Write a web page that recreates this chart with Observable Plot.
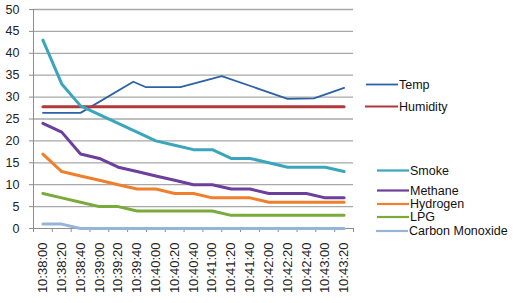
<!DOCTYPE html>
<html><head><meta charset="utf-8">
<script src="https://cdn.jsdelivr.net/npm/d3@7"></script>
<script src="https://cdn.jsdelivr.net/npm/@observablehq/plot@0.6"></script>
<style>
body{margin:0;background:#fff;}
#chart{position:relative;width:522px;height:303px;overflow:hidden;}
svg{font-family:"Liberation Sans",Arial,sans-serif;}
</style>
</head><body><div id="chart"></div>
<script>
const times = ["10:38:00","10:38:20","10:38:40","10:39:00","10:39:20","10:39:40","10:40:00","10:40:20","10:40:40","10:41:00","10:41:20","10:41:40","10:42:00","10:42:20","10:42:40","10:43:00","10:43:20"];
const yTicks = [0,5,10,15,20,25,30,35,40,45,50];
const tempX = [0, 2, 4.8, 5.45, 7.3, 9.5, 13, 14.4, 16];
const temp  = [26.4, 26.4, 33.5, 32.3, 32.3, 34.8, 29.6, 29.7, 32.1];
const humidity = [27.8,27.8,27.8,27.8,27.8,27.8,27.8,27.8,27.8,27.8,27.8,27.8,27.8,27.8,27.8,27.8,27.8];
const smoke    = [43,33,28,26,24,22,20,19,18,18,16,16,15,14,14,14,13];
const methane  = [24,22,17,16,14,13,12,11,10,10,9,9,8,8,8,7,7];
const hydrogen = [17,13,12,11,10,9,9,8,8,7,7,7,6,6,6,6,6];
const lpg      = [8,7,6,5,5,4,4,4,4,4,3,3,3,3,3,3,3];
const co       = [1,1,0,0,0,0,0,0,0,0,0,0,0,0,0,0,0];

const seriesNames  = ["Temp","Humidity","Smoke","Methane","Hydrogen","LPG","Carbon Monoxide"];
const seriesColors = ["#2b62a8","#b0393a","#3aa6bc","#6d3f9c","#ef7f2c","#79aa3a","#96b3d8"];

const catRows = arr => arr.map((v,i)=>({x:i,y:v}));
const series = [
  {name:"Temp", rows: temp.map((v,i)=>({x:tempX[i],y:v})), w:1.8},
  {name:"Humidity", rows: catRows(humidity), w:3},
  {name:"Smoke", rows: catRows(smoke), w:3},
  {name:"Methane", rows: catRows(methane), w:3},
  {name:"Hydrogen", rows: catRows(hydrogen), w:3},
  {name:"LPG", rows: catRows(lpg), w:3},
  {name:"Carbon Monoxide", rows: catRows(co), w:3}
];
const colorOf = n => seriesColors[seriesNames.indexOf(n)];
const idx = times.map((_,i)=>i);
const bounds = d3.range(-0.5, times.length, 1);

const plot = Plot.plot({
  width: 522, height: 303,
  marginLeft: 33, marginRight: 169, marginTop: 9, marginBottom: 75,
  style: {fontFamily: '"Liberation Sans",Arial,sans-serif', fontSize: "12px", color: "#222", background: "#fff"},
  x: {type: "linear", domain: [-0.5, times.length - 0.5]},
  y: {domain: [0, 50]},
  marks: [
    Plot.gridY(yTicks.filter(t=>t>0), {stroke: "#a8a8a8", strokeOpacity: 1, strokeWidth: 1.3}),
    Plot.ruleY([0], {stroke: "#8c8c8c"}),
    Plot.ruleX([-0.5], {stroke: "#8c8c8c"}),
    Plot.axisY({ticks: yTicks, tickSize: 4, tickPadding: 10, stroke: "#8c8c8c", label: null, fontSize: 12.5}),
    Plot.axisX({ticks: bounds, tickSize: 4, tickFormat: () => "", stroke: "#8c8c8c", label: null}),
    Plot.axisX({ticks: idx, tickSize: 0, tickPadding: 14, tickRotate: -90, tickFormat: i => times[i], label: null, fontSize: 13, style:{letterSpacing:"1.8px"}}),
    ...series.map(s => Plot.line(s.rows, {x: "x", y: "y", stroke: colorOf(s.name), strokeWidth: s.w, strokeLinejoin: "round"}))
  ]
});
document.getElementById("chart").appendChild(plot);

// legend
const legendPos = [
  {y: 84.5, x1: 366, x2: 398},
  {y: 106.5, x1: 365, x2: 398},
  {y: 170.5, x1: 377, x2: 409},
  {y: 190.5, x1: 377, x2: 409},
  {y: 204, x1: 377, x2: 409},
  {y: 217, x1: 377, x2: 409},
  {y: 231, x1: 376, x2: 408}
];
const svg = d3.select(plot);
const lg = svg.append("g").attr("text-anchor","start");
seriesNames.forEach((n,i)=>{
  const p = legendPos[i];
  lg.append("line").attr("x1",p.x1).attr("x2",p.x2).attr("y1",p.y).attr("y2",p.y)
    .attr("stroke",seriesColors[i]).attr("stroke-width", i===0?1.8:2.2);
  lg.append("text").attr("x",p.x2+1).attr("y",p.y).attr("dy","0.35em")
    .attr("text-anchor","start")
    .attr("font-size","12.5px").attr("fill","#111").text(n);
});
</script>
</body></html>
